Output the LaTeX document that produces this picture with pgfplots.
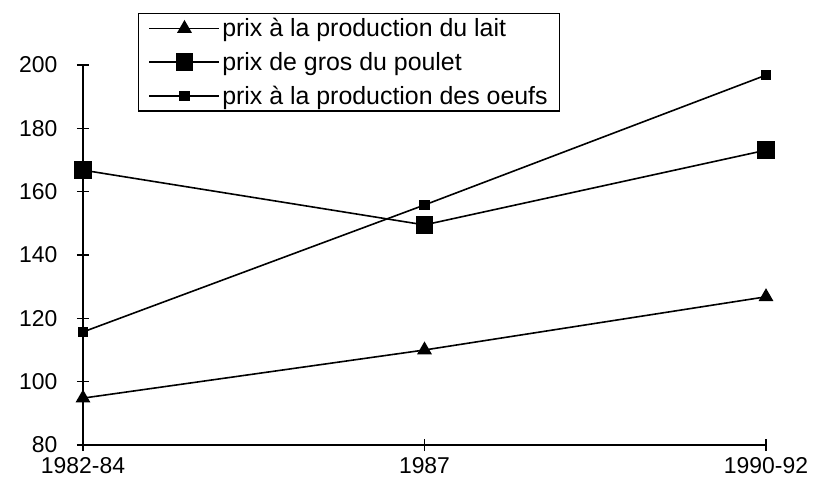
\documentclass[border=0pt]{standalone}
\usepackage{pgfplots}
\pgfplotsset{compat=1.18}
\usepackage{fontspec}
\setmainfont{Liberation Sans}
\begin{document}
\begin{tikzpicture}
\useasboundingbox (0,0) rectangle (831bp,482bp);
\begin{axis}[
  at={(83bp,37bp)}, anchor=south west,
  scale only axis, width=683bp, height=380bp,
  axis lines=left, axis line style={line width=1.6bp, -},
  xmin=0, xmax=2, ymin=80, ymax=200,
  xtick={0,1,2}, xticklabels={1982-84,1987,1990-92},
  ytick={80,100,...,200},
  tick align=center, major tick length=12bp,
  tick style={line width=1.4bp, black},
  /pgf/number format/assume math mode=true,
  tick label style={font=\fontsize{23}{27}\selectfont},
  yticklabel style={xshift=-16bp},
  xticklabel style={yshift=-3bp},
  clip=false,
  legend style={at={(axis description cs:0.0805,1.137)}, anchor=north west,
    draw=black, line width=1.4bp, font=\fontsize{25}{29}\selectfont,
    row sep=10bp, inner xsep=10bp, inner ysep=3bp},
  legend cell align=left,
  legend image code/.code={\draw[mark repeat=2,mark phase=2] plot coordinates {(0bp,0bp)(35bp,0bp)(70bp,0bp)};},
]
\addplot[black, line width=1.6bp, mark=triangle*, mark size=7bp, mark options={solid}] coordinates {(0,94.8) (1,110) (2,126.8)};
\addlegendentry{prix à la production du lait}
\addplot[black, line width=1.6bp, mark=square*, mark size=8bp] coordinates {(0,166.8) (1,149.5) (2,173.1)};
\addlegendentry{prix de gros du poulet}
\addplot[black, line width=1.6bp, mark=square*, mark size=4.5bp] coordinates {(0,115.7) (1,155.8) (2,196.8)};
\addlegendentry{prix à la production des oeufs\hspace{22bp}}
\end{axis}
\end{tikzpicture}
\end{document}
